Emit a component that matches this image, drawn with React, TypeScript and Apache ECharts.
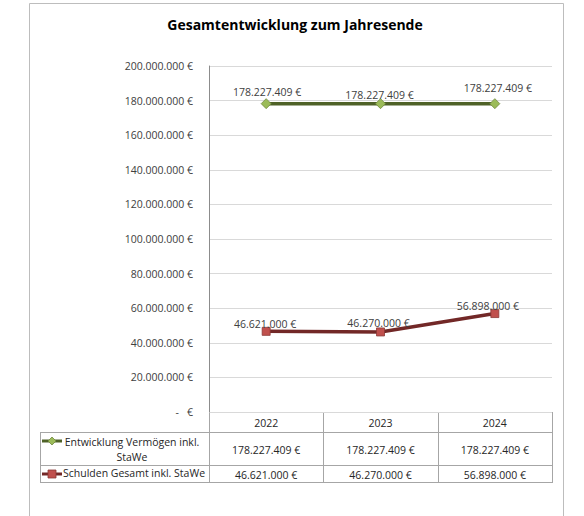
import React, { useEffect, useRef } from "react";
import * as echarts from "echarts";

const title = "Gesamtentwicklung zum Jahresende";
const categories = ["2022", "2023", "2024"];
const seriesNames = ["Entwicklung Vermögen inkl. StaWe", "Schulden Gesamt inkl. StaWe"];
const vermoegen = [178227409, 178227409, 178227409];
const schulden = [46621000, 46270000, 56898000];
const yMin = 0;
const yMax = 200000000;
const yInterval = 20000000;

const FONT = "'Open Sans', 'Noto Sans', sans-serif";
const fmt = (v: number) => {
  const s = Math.round(v).toString().replace(/\B(?=(\d{3})+(?!\d))/g, ".");
  return s + " €";
};

// label placement tweaks (styles, not data)
const greenOffsets = [[1, -12], [-1, -9], [3, -16]];
const redOffsets = [[-1, -7], [-2, -9], [-7, -8]];

const GREEN_LINE = "#4f6228";
const GREEN_FILL = "#9bbb59";
const GREEN_BORDER = "#71893f";
const RED_LINE = "#722827";
const RED_FILL = "#c0504d";
const RED_BORDER = "#8c3836";
const TABLE_LINE = "#a6a6a6";
const TEXT = "#262626";

export default function App() {
  const ref = useRef<HTMLDivElement>(null);
  useEffect(() => {
    if (!ref.current) return;
    const chart = echarts.init(ref.current, undefined, { renderer: "svg" });

    const W = 584;
    const gl = 209, gr = 552, gt = 66, gb = 412;
    const colW = (gr - gl) / categories.length;
    const tl = 40;
    const rH0 = 412, rH1 = 432, rR1 = 465, rR2 = 482;

    const graphics: any[] = [];
    graphics.push({
      type: "rect",
      shape: { x: 29.5, y: 3.5, width: 534, height: 530 },
      style: { fill: "none", stroke: "#bdbdbd", lineWidth: 1 },
      silent: true,
    });
    const hline = (y: number, x1: number, x2: number) =>
      graphics.push({ type: "line", shape: { x1, y1: y + 0.5, x2, y2: y + 0.5 }, style: { stroke: TABLE_LINE, lineWidth: 1 }, silent: true });
    const vline = (x: number, y1: number, y2: number) =>
      graphics.push({ type: "line", shape: { x1: x + 0.5, y1, x2: x + 0.5, y2 }, style: { stroke: TABLE_LINE, lineWidth: 1 }, silent: true });
    hline(rH0, gl, gr + 1);
    hline(rH1, tl, gr + 1);
    hline(rR1, tl, gr + 1);
    hline(rR2, tl, gr + 1);
    vline(tl, rH1, rR2 + 1);
    for (let i = 0; i <= categories.length; i++) {
      vline(Math.round(gl + i * colW), rH0, rR2 + 1);
    }
    const txt = (text: string, x: number, y: number, align: string) =>
      graphics.push({
        type: "text",
        x, y,
        style: { text, fill: TEXT, font: `10.5px ${FONT}`, lineHeight: 15, align, verticalAlign: "middle", textAlign: align, textVerticalAlign: "middle" },
        silent: true,
      });
    categories.forEach((c, i) => {
      const cx = gl + (i + 0.5) * colW;
      txt(c, cx, (rH0 + rH1) / 2 + 1, "center");
      txt(fmt(vermoegen[i]), cx, (rH1 + rR1) / 2 + 1, "center");
      txt(fmt(schulden[i]), cx, (rR1 + rR2) / 2 + 1, "center");
    });
    const y1a = 441, y2 = 474;
    graphics.push({ type: "line", shape: { x1: 42, y1: y1a, x2: 62, y2: y1a }, style: { stroke: GREEN_LINE, lineWidth: 3 }, silent: true });
    graphics.push({ type: "polygon", shape: { points: [[52, y1a - 4], [56, y1a], [52, y1a + 4], [48, y1a]] }, style: { fill: GREEN_FILL, stroke: GREEN_BORDER, lineWidth: 0.8 }, silent: true });
    graphics.push({ type: "line", shape: { x1: 42, y1: y2, x2: 62, y2: y2 }, style: { stroke: RED_LINE, lineWidth: 3 }, silent: true });
    graphics.push({ type: "rect", shape: { x: 48, y: y2 - 4, width: 8, height: 8 }, style: { fill: RED_FILL, stroke: RED_BORDER, lineWidth: 0.8 }, silent: true });
    const n1 = seriesNames[0];
    const cut = n1.lastIndexOf(" ");
    txt(n1.slice(0, cut) + "\n" + n1.slice(cut + 1), 132, 449, "center");
    txt(seriesNames[1], 63, y2 - 1, "left");

    graphics.push({
      type: "text",
      x: 295, y: 24,
      style: { text: title, fill: "#000000", font: `bold 14px ${FONT}`, align: "center", verticalAlign: "middle", textAlign: "center", textVerticalAlign: "middle" },
      silent: true,
    });

    const labelCfg = (off: number[]) => ({
      show: true,
      position: "inside",
      offset: off,
      color: "#404040",
      fontFamily: FONT,
      fontSize: 10.5,
      formatter: (p: any) => fmt(p.value),
    });

    chart.setOption({
      animation: false,
      grid: { left: gl, right: W - gr, top: gt, bottom: 516 - gb, containLabel: false },
      xAxis: {
        type: "category",
        data: categories,
        boundaryGap: true,
        axisLine: { show: false },
        axisTick: { show: false },
        axisLabel: { show: false },
        splitLine: { show: false },
      },
      yAxis: {
        type: "value",
        min: yMin,
        max: yMax,
        interval: yInterval,
        axisLine: { show: true, lineStyle: { color: "#8c8c8c", width: 1 } },
        axisTick: { show: false },
        splitLine: { show: true, lineStyle: { color: "#d9d9d9", width: 1 } },
        axisLabel: {
          margin: 16,
          color: "#404040",
          fontFamily: FONT,
          fontSize: 10.5,
          formatter: (v: number) => (v === 0 ? "-   €" : fmt(v)),
        },
      },
      series: [
        {
          name: seriesNames[0],
          type: "line",
          data: vermoegen.map((v, i) => ({ value: v, label: labelCfg(greenOffsets[i]) })),
          symbol: "diamond",
          symbolSize: 10,
          lineStyle: { color: GREEN_LINE, width: 3.5 },
          itemStyle: { color: GREEN_FILL, borderColor: GREEN_BORDER, borderWidth: 0.8 },
          z: 3,
        },
        {
          name: seriesNames[1],
          type: "line",
          data: schulden.map((v, i) => ({ value: v, label: labelCfg(redOffsets[i]) })),
          symbol: "rect",
          symbolSize: 8,
          lineStyle: { color: RED_LINE, width: 3.5 },
          itemStyle: { color: RED_FILL, borderColor: RED_BORDER, borderWidth: 0.8 },
          z: 3,
        },
      ],
      graphic: graphics,
    });
    return () => chart.dispose();
  }, []);
  return (
    <div
      ref={ref}
      style={{ position: "fixed", left: 0, top: 0, width: 584, height: 516, background: "#ffffff" }}
    />
  );
}
